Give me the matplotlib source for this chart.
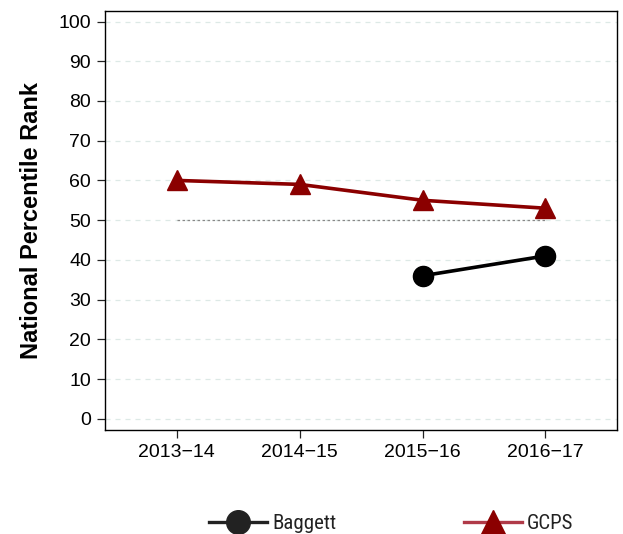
import matplotlib
matplotlib.use('Agg')
import matplotlib.pyplot as plt
from matplotlib.lines import Line2D
import numpy as np

plt.rcParams['font.family'] = ['Liberation Sans', 'DejaVu Sans']
plt.rcParams['axes.unicode_minus'] = True

years = ['2013\u221214', '2014\u221215', '2015\u221216', '2016\u221217']
gcps = [60, 59, 55, 53]
baggett = [np.nan, np.nan, 36, 41]
ref_level = 50

fig = plt.figure(figsize=(6.23, 5.34), dpi=100)
ax = fig.add_axes([0.1685, 0.195, 0.8215, 0.784])

x = np.arange(len(years))
ax.yaxis.grid(True, ls=(0, (4, 4)), color='#dde9e6', lw=0.9)
ax.set_axisbelow(True)
# national median reference line
ax.plot([x[0], x[-1]], [ref_level, ref_level], ls=(0, (2, 2)), color='#888888', lw=0.9)
ax.plot(x, gcps, color='#8b0000', lw=2.6, marker='^', ms=14.5, zorder=3)
ax.plot(x, baggett, color='black', lw=2.6, marker='o', ms=14.5, zorder=3)

ax.set_xlim(-0.585, 3.58)
ax.set_ylim(-2.8, 102.6)
ax.set_yticks(range(0, 101, 10))
ax.set_xticks(x)
ax.set_xticklabels(years, family='Liberation Sans')
for lbl in ax.get_yticklabels():
    lbl.set_family('Liberation Sans')
ax.tick_params(labelsize=14, length=6, width=0.9, color='#222222', pad=4)
for s in ax.spines.values():
    s.set_linewidth(1.0)
ax.set_ylabel('National Percentile Rank', fontsize=17, fontweight='bold',
              family='Liberation Sans', labelpad=11)

handles = [Line2D([], [], color='#222222', lw=2.4, marker='o', ms=17, markerfacecolor='#222222'),
           Line2D([], [], color='#b03a48', lw=2.4, marker='^', ms=17,
                  markerfacecolor='#8b0000', markeredgecolor='#8b0000')]
fig.legend(handles, ['Baggett', 'GCPS'], loc='center', bbox_to_anchor=(0.628, 0.02),
           ncol=2, frameon=False, handlelength=2.8, columnspacing=6.1, handletextpad=0.25,
           prop={'size': 15, 'family': 'Roboto Condensed'},
           labelcolor='#222222')

fig.savefig('out.png', dpi=100)
